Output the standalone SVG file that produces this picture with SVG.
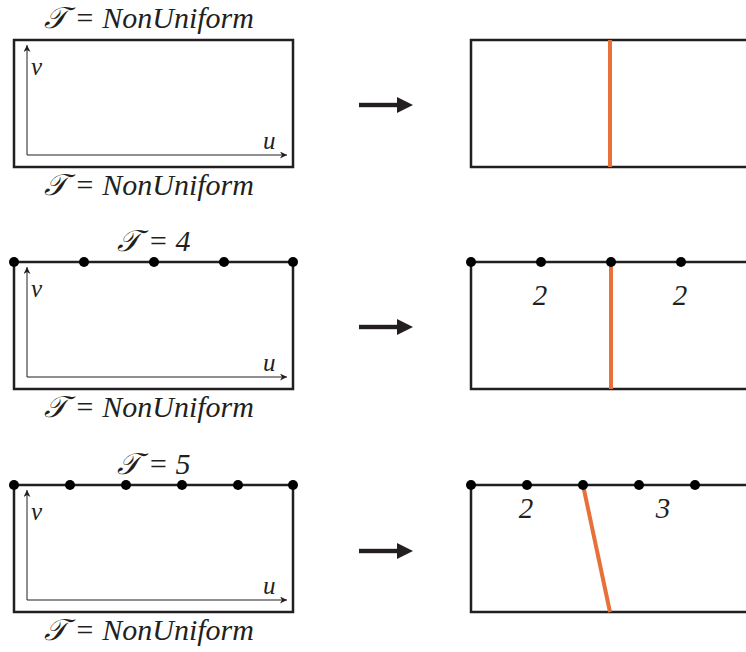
<svg xmlns="http://www.w3.org/2000/svg" width="746" height="652" viewBox="0 0 746 652">
  <style>
    .box { fill: none; stroke: #231f20; stroke-width: 2.5; }
    .axis { fill: none; stroke: #231f20; stroke-width: 1; }
    .cut { stroke: #e8713a; stroke-width: 4; fill: none; }
    .dot { fill: #000; }
    .arrow { fill: #231f20; }
  </style>
  <defs>
    <marker id="axhead" viewBox="0 0 10 10" refX="10" refY="5" markerWidth="7" markerHeight="7" markerUnits="userSpaceOnUse" orient="auto">
      <path d="M0,0 L10,5 L0,10 L3,5 Z" fill="#231f20"/>
    </marker>
    <g id="bigArrow">
      <rect x="0" y="-2.2" width="42" height="4.4"/>
      <path d="M38,-8 L54,0 L38,8 Z"/>
    </g>
  </defs>

  <!-- Row 1: non-uniform on both sides -->
  <g id="row1-left">
    <text font-family="Liberation Serif" font-style="italic" font-size="30" fill="#231f20" text-anchor="middle" x="149" y="28">𝒯 = NonUniform</text>
    <rect class="box" x="14" y="40" width="279" height="127"/>
    <line class="axis" x1="27" y1="155" x2="27" y2="45" marker-end="url(#axhead)"/>
    <line class="axis" x1="27" y1="155" x2="287" y2="155" marker-end="url(#axhead)"/>
    <text font-family="Liberation Serif" font-style="italic" font-size="25" fill="#231f20" x="31" y="75">ν</text>
    <text font-family="Liberation Serif" font-style="italic" font-size="25" fill="#231f20" x="263" y="149">u</text>
    <text font-family="Liberation Serif" font-style="italic" font-size="30" fill="#231f20" text-anchor="middle" x="149" y="195">𝒯 = NonUniform</text>
  </g>
  <g id="arrow1" class="arrow"><use href="#bigArrow" x="359" y="105"/></g>
  <g id="row1-right">
    <rect class="box" x="471" y="40" width="290" height="127"/>
    <line class="cut" x1="610" y1="40" x2="610" y2="167"/>
  </g>

  <!-- Row 2: four uniform spans on top -->
  <g id="row2-left">
    <text font-family="Liberation Serif" font-style="italic" font-size="30" fill="#231f20" text-anchor="middle" x="154" y="251">𝒯 = 4</text>
    <rect class="box" x="14" y="262" width="279" height="127"/>
    <line class="axis" x1="27" y1="377" x2="27" y2="267" marker-end="url(#axhead)"/>
    <line class="axis" x1="27" y1="377" x2="287" y2="377" marker-end="url(#axhead)"/>
    <text font-family="Liberation Serif" font-style="italic" font-size="25" fill="#231f20" x="31" y="297">ν</text>
    <text font-family="Liberation Serif" font-style="italic" font-size="25" fill="#231f20" x="263" y="371">u</text>
    <text font-family="Liberation Serif" font-style="italic" font-size="30" fill="#231f20" text-anchor="middle" x="149" y="417">𝒯 = NonUniform</text>
    <circle class="dot" cx="14" cy="262" r="5"/>
    <circle class="dot" cx="84" cy="262" r="5"/>
    <circle class="dot" cx="154" cy="262" r="5"/>
    <circle class="dot" cx="224" cy="262" r="5"/>
    <circle class="dot" cx="293" cy="262" r="5"/>
  </g>
  <g id="arrow2" class="arrow"><use href="#bigArrow" x="359" y="327"/></g>
  <g id="row2-right">
    <rect class="box" x="471" y="262" width="290" height="127"/>
    <line class="cut" x1="611" y1="262" x2="611" y2="389"/>
    <circle class="dot" cx="471" cy="262" r="5"/>
    <circle class="dot" cx="541" cy="262" r="5"/>
    <circle class="dot" cx="611" cy="262" r="5"/>
    <circle class="dot" cx="681" cy="262" r="5"/>
    <text font-family="Liberation Serif" font-style="italic" font-size="29" fill="#231f20" text-anchor="middle" x="540" y="305">2</text>
    <text font-family="Liberation Serif" font-style="italic" font-size="29" fill="#231f20" text-anchor="middle" x="680" y="305">2</text>
  </g>

  <!-- Row 3: five uniform spans on top -->
  <g id="row3-left">
    <text font-family="Liberation Serif" font-style="italic" font-size="30" fill="#231f20" text-anchor="middle" x="154" y="474">𝒯 = 5</text>
    <rect class="box" x="14" y="485" width="279" height="127"/>
    <line class="axis" x1="27" y1="600" x2="27" y2="490" marker-end="url(#axhead)"/>
    <line class="axis" x1="27" y1="600" x2="287" y2="600" marker-end="url(#axhead)"/>
    <text font-family="Liberation Serif" font-style="italic" font-size="25" fill="#231f20" x="31" y="520">ν</text>
    <text font-family="Liberation Serif" font-style="italic" font-size="25" fill="#231f20" x="263" y="594">u</text>
    <text font-family="Liberation Serif" font-style="italic" font-size="30" fill="#231f20" text-anchor="middle" x="149" y="640">𝒯 = NonUniform</text>
    <circle class="dot" cx="14" cy="485" r="5"/>
    <circle class="dot" cx="70" cy="485" r="5"/>
    <circle class="dot" cx="126" cy="485" r="5"/>
    <circle class="dot" cx="182" cy="485" r="5"/>
    <circle class="dot" cx="238" cy="485" r="5"/>
    <circle class="dot" cx="293" cy="485" r="5"/>
  </g>
  <g id="arrow3" class="arrow"><use href="#bigArrow" x="359" y="551"/></g>
  <g id="row3-right">
    <rect class="box" x="471" y="485" width="290" height="127"/>
    <line class="cut" x1="583" y1="485" x2="610" y2="612"/>
    <circle class="dot" cx="471" cy="485" r="5"/>
    <circle class="dot" cx="527" cy="485" r="5"/>
    <circle class="dot" cx="583" cy="485" r="5"/>
    <circle class="dot" cx="639" cy="485" r="5"/>
    <circle class="dot" cx="695" cy="485" r="5"/>
    <text font-family="Liberation Serif" font-style="italic" font-size="29" fill="#231f20" text-anchor="middle" x="526" y="518">2</text>
    <text font-family="Liberation Serif" font-style="italic" font-size="29" fill="#231f20" text-anchor="middle" x="663" y="518">3</text>
  </g>
</svg>
